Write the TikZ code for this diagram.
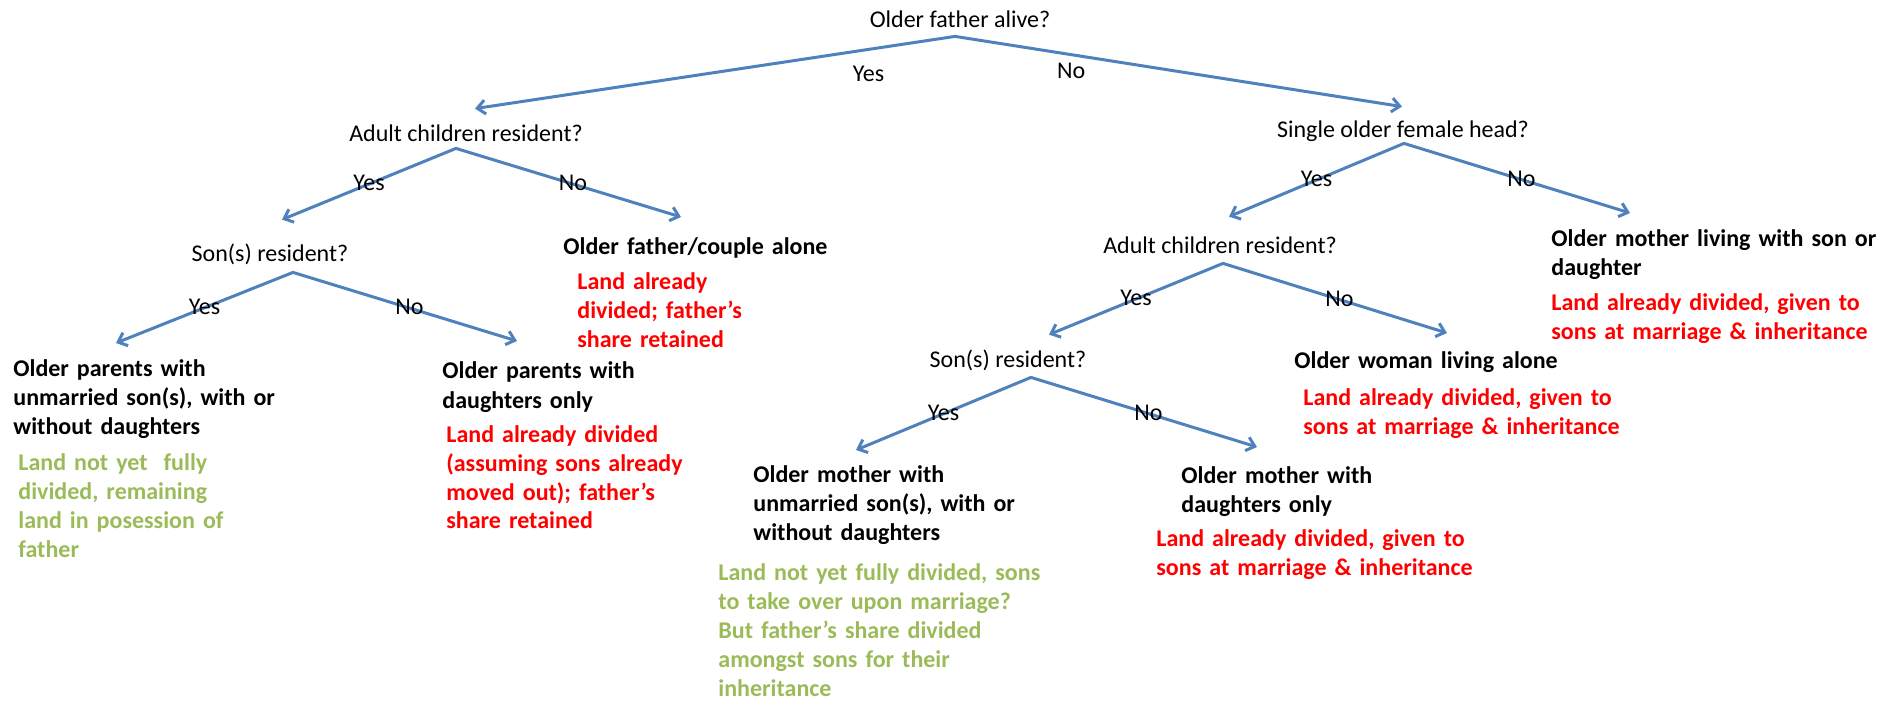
\documentclass[tikz,border=0pt]{standalone}
\usepackage{fontspec}
\setmainfont{Carlito}
\usetikzlibrary{arrows.meta}

\definecolor{arrowblue}{RGB}{79,129,189}
\definecolor{landred}{RGB}{255,0,0}
\definecolor{landgreen}{RGB}{155,187,89}

\begin{document}
\begin{tikzpicture}[line cap=round,line join=round,x=0.5pt,y=-0.5pt,
  question/.style={inner sep=0pt,text height=9pt,text depth=2.5pt,font=\fontsize{12}{14.5}\selectfont},
  answer/.style={question},
  outcome/.style={anchor=base west,inner sep=0pt,text width=170pt,align=left,font=\fontsize{12}{14.5}\selectfont\bfseries},
  rednote/.style={outcome,text=landred},
  greennote/.style={outcome,text=landgreen},
  branch/.style={draw=arrowblue,line width=1.5pt,-{Straight Barb[length=4pt,width=7pt]}}]

\useasboundingbox (0,0) rectangle (1887,701);

% questions
\node[question] (root) at (960,21) {Older father alive?};
\node[question] (adultL) at (466,135) {Adult children resident?};
\node[question] (sonsL) at (270,255) {Son(s) resident?};
\node[question] (single) at (1403,131) {Single older female head?};
\node[question] (adultR) at (1220,247) {Adult children resident?};
\node[question] (sonsR) at (1008,361) {Son(s) resident?};

% outcomes, left side
\node[outcome] (coupleAlone) at (563,255) {Older father/couple alone};
\node[rednote] (coupleNote) at (577,289) {Land already\\divided; father's\\share retained};
\node[outcome] (parentsSons) at (13,376) {Older parents with\\unmarried son(s), with or\\without daughters};
\node[greennote] (parentsSonsNote) at (18,470) {Land not yet\ \ fully\\divided, remaining\\land in posession of\\father};
\node[outcome] (parentsDaughters) at (442,379) {Older parents with\\daughters only};
\node[rednote] (parentsDaughtersNote) at (446,442) {Land already divided\\(assuming sons already\\moved out); father's\\share retained};

% outcomes, right side
\node[outcome] (motherWith) at (1551,247) {Older mother living with son or\\daughter};
\node[rednote] (motherWithNote) at (1551,310) {Land already divided, given to\\sons at marriage \& inheritance};
\node[outcome] (womanAlone) at (1294,368) {Older woman living alone};
\node[rednote] (womanAloneNote) at (1303,405) {Land already divided, given to\\sons at marriage \& inheritance};
\node[outcome] (motherSons) at (753,482) {Older mother with\\unmarried son(s), with or\\without daughters};
\node[greennote] (motherSonsNote) at (718,580) {Land not yet fully divided, sons\\to take over upon marriage?\\But father's share divided\\amongst sons for their\\inheritance};
\node[outcome] (motherDaughters) at (1181,483) {Older mother with\\daughters only};
\node[rednote] (motherDaughtersNote) at (1156,546) {Land already divided, given to\\sons at marriage \& inheritance};

% branches
\draw[branch] ([shift={(-5,3.5)}]root.south) -- node[answer,pos=0.18,yshift=-13pt] (rootYes) {Yes} ([shift={(9,-14.5)}]adultL.north);
\draw[branch] ([shift={(-5,3.5)}]root.south) -- node[answer,pos=0.26,yshift=-8.75pt] (rootNo) {No} ([shift={(-1,-12.5)}]single.north);

\draw[branch] ([shift={(-10,1.5)}]adultL.south) -- node[answer,pos=0.5] (adultLYes) {Yes} ([shift={(12,-23.5)}]sonsL.north);
\draw[branch] ([shift={(-10,1.5)}]adultL.south) -- node[answer,pos=0.52] (adultLNo) {No} ([shift={(118,-38)}]coupleAlone.base west);

\draw[branch] ([shift={(23,5.5)}]sonsL.south) -- node[answer,pos=0.5] (sonsLYes) {Yes} ([shift={(103,-33)}]parentsSons.base west);
\draw[branch] ([shift={(23,5.5)}]sonsL.south) -- node[answer,pos=0.52] (sonsLNo) {No} ([shift={(75,-38)}]parentsDaughters.base west);

\draw[branch] ([shift={(1,0.5)}]single.south) -- node[answer,pos=0.5] (singleYes) {Yes} ([shift={(9,-18.5)}]adultR.north);
\draw[branch] ([shift={(1,0.5)}]single.south) -- node[answer,pos=0.52] (singleNo) {No} ([shift={(79,-34)}]motherWith.base west);

\draw[branch] ([shift={(3,4.5)}]adultR.south) -- node[answer,pos=0.5] (adultRYes) {Yes} ([shift={(41,-14.5)}]sonsR.north);
\draw[branch] ([shift={(3,4.5)}]adultR.south) -- node[answer,pos=0.52] (adultRNo) {No} ([shift={(153,-35)}]womanAlone.base west);

\draw[branch] ([shift={(23,4.5)}]sonsR.south) -- node[answer,pos=0.5] (sonsRYes) {Yes} ([shift={(103,-32)}]motherSons.base west);
\draw[branch] ([shift={(23,4.5)}]sonsR.south) -- node[answer,pos=0.52] (sonsRNo) {No} ([shift={(76,-36)}]motherDaughters.base west);

\end{tikzpicture}
\end{document}
